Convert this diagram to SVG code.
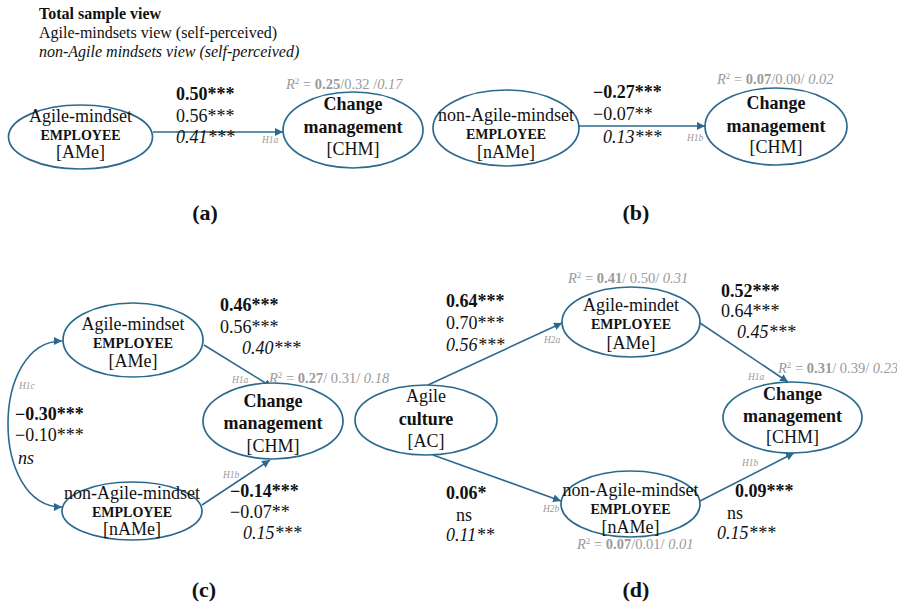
<svg xmlns="http://www.w3.org/2000/svg" width="897" height="605" viewBox="0 0 897 605" font-family="'Liberation Serif', 'DejaVu Serif', serif">
<style>
text{font-family:'Liberation Serif','DejaVu Serif','Times New Roman',serif;fill:#111}
.node ellipse{fill:#fff;stroke:#2b6a8e;stroke-width:1.7}
.n{font-size:18px;text-anchor:middle}
.nb{font-size:18px;text-anchor:middle;font-weight:bold}
.emp{font-size:14px;font-weight:bold;text-anchor:middle}
.c{font-size:18px}
.b{font-weight:bold}
.i{font-style:italic}
.r2{font-size:14.5px;fill:#9a9a9a}
.r2 tspan{fill:#9a9a9a}
.h{font-size:9.5px;font-style:italic;fill:#9a9a9a}
.lbl{font-size:22px;font-weight:bold;text-anchor:middle}
.hd{font-size:16px}
.conn path{fill:none;stroke:#2b6a8e;stroke-width:1.6}
</style>
<defs>
<marker id="arr" viewBox="0 0 10 10" refX="10" refY="5" markerWidth="8" markerHeight="8" markerUnits="userSpaceOnUse" orient="auto-start-reverse">
<path d="M0,0 L10,5 L0,10 z" fill="#2b6a8e"/>
</marker>
</defs>

<g id="header">
<text class="hd b" x="39" y="19">Total sample view</text>
<text class="hd" x="39" y="38">Agile-mindsets view (self-perceived)</text>
<text class="hd i" x="39" y="57">non-Agile mindsets view (self-perceived)</text>
</g>

<g class="conn" id="connectors">
<path d="M153,132 L283,132" marker-end="url(#arr)"/>
<path d="M579,126 L705,126" marker-end="url(#arr)"/>
<path d="M204,345 L272,387" marker-end="url(#arr)"/>
<path d="M202,505 L270,460" marker-end="url(#arr)"/>
<path d="M62,341 C-10,341 -10,507 62,507" marker-start="url(#arr)" marker-end="url(#arr)"/>
<path d="M428,385 L562,323" marker-end="url(#arr)"/>
<path d="M433,455 L561,501" marker-end="url(#arr)"/>
<path d="M700,323 L788,382" marker-end="url(#arr)"/>
<path d="M700,501 L794,453" marker-end="url(#arr)"/>
</g>

<!-- Panel (a) -->
<g class="node" id="a-AMe">
<ellipse cx="80.5" cy="137" rx="72" ry="32"/>
<text class="n" x="80.5" y="122">Agile-mindset</text>
<text class="emp" x="80.5" y="140">EMPLOYEE</text>
<text class="n" x="80.5" y="158">[AMe]</text>
</g>
<g class="node" id="a-CHM">
<ellipse cx="353" cy="130" rx="70" ry="38"/>
<text class="nb" x="353" y="110">Change</text>
<text class="nb" x="353" y="133">management</text>
<text class="n" x="353" y="155">[CHM]</text>
</g>
<g id="a-labels">
<text class="c b" x="176" y="100">0.50***</text>
<text class="c" x="176" y="122">0.56***</text>
<text class="c i" x="176" y="143">0.41***</text>
<text class="h" x="262" y="143">H1a</text>
<text class="r2" x="286" y="89"><tspan class="i">R</tspan><tspan font-size="9" dy="-5">2</tspan><tspan dy="5"> = </tspan><tspan class="b">0.25</tspan>/0.32 /<tspan class="i">0.17</tspan></text>
<text class="lbl" x="205" y="220">(a)</text>
</g>

<!-- Panel (b) -->
<g class="node" id="b-nAMe">
<ellipse cx="506" cy="128" rx="73" ry="38"/>
<text class="n" x="506" y="121">non-Agile-mindset</text>
<text class="emp" x="506" y="139">EMPLOYEE</text>
<text class="n" x="506" y="158">[nAMe]</text>
</g>
<g class="node" id="b-CHM">
<ellipse cx="776" cy="126.5" rx="71" ry="38.5"/>
<text class="nb" x="776" y="109">Change</text>
<text class="nb" x="776" y="132">management</text>
<text class="n" x="776" y="153">[CHM]</text>
</g>
<g id="b-labels">
<text class="c b" x="593" y="98">−0.27***</text>
<text class="c" x="593" y="120">−0.07**</text>
<text class="c i" x="603" y="143">0.13***</text>
<text class="h" x="687" y="141">H1b</text>
<text class="r2" x="717" y="84"><tspan class="i">R</tspan><tspan font-size="9" dy="-5">2</tspan><tspan dy="5"> = </tspan><tspan class="b">0.07</tspan>/0.00/ <tspan class="i">0.02</tspan></text>
<text class="lbl" x="636" y="220">(b)</text>
</g>

<!-- Panel (c) -->
<g class="node" id="c-AMe">
<ellipse cx="133" cy="340" rx="70" ry="37"/>
<text class="n" x="133" y="330">Agile-mindset</text>
<text class="emp" x="133" y="348">EMPLOYEE</text>
<text class="n" x="133" y="367">[AMe]</text>
</g>
<g class="node" id="c-nAMe">
<ellipse cx="132" cy="511" rx="70" ry="29"/>
<text class="n" x="132" y="499">non-Agile-mindset</text>
<text class="emp" x="132" y="517">EMPLOYEE</text>
<text class="n" x="132" y="535">[nAMe]</text>
</g>
<g class="node" id="c-CHM">
<ellipse cx="273" cy="421" rx="70" ry="38"/>
<text class="nb" x="273" y="407">Change</text>
<text class="nb" x="273" y="429">management</text>
<text class="n" x="273" y="452">[CHM]</text>
</g>
<g id="c-labels">
<text class="c b" x="220" y="311">0.46***</text>
<text class="c" x="220" y="333">0.56***</text>
<text class="c i" x="242" y="354">0.40***</text>
<text class="c b" x="230" y="497">−0.14***</text>
<text class="c" x="230" y="518">−0.07**</text>
<text class="c i" x="243" y="539">0.15***</text>
<text class="c b" x="15" y="420">−0.30***</text>
<text class="c" x="15" y="441">−0.10***</text>
<text class="c i" x="18" y="464">ns</text>
<text class="h" x="232" y="383">H1a</text>
<text class="h" x="223" y="478">H1b</text>
<text class="h" x="19" y="389">H1c</text>
<text class="r2" x="269" y="383"><tspan class="i">R</tspan><tspan font-size="9" dy="-5">2</tspan><tspan dy="5"> = </tspan><tspan class="b">0.27</tspan>/ 0.31/ <tspan class="i">0.18</tspan></text>
<text class="lbl" x="204" y="597">(c)</text>
</g>

<!-- Panel (d) -->
<g class="node" id="d-AC">
<ellipse cx="426" cy="420" rx="71" ry="35"/>
<text class="n" x="426" y="402">Agile</text>
<text class="nb" x="426" y="425">culture</text>
<text class="n" x="426" y="447">[AC]</text>
</g>
<g class="node" id="d-AMe">
<ellipse cx="631" cy="322" rx="69" ry="35"/>
<text class="n" x="631" y="311">Agile-mindet</text>
<text class="emp" x="631" y="329">EMPLOYEE</text>
<text class="n" x="631" y="349">[AMe]</text>
</g>
<g class="node" id="d-nAMe">
<ellipse cx="630.5" cy="504" rx="69.5" ry="33"/>
<text class="n" x="630.5" y="496">non-Agile-mindset</text>
<text class="emp" x="630.5" y="514">EMPLOYEE</text>
<text class="n" x="630.5" y="533">[nAMe]</text>
</g>
<g class="node" id="d-CHM">
<ellipse cx="792.5" cy="417.5" rx="69.5" ry="35.5"/>
<text class="nb" x="792.5" y="400">Change</text>
<text class="nb" x="792.5" y="422">management</text>
<text class="n" x="792.5" y="443">[CHM]</text>
</g>
<g id="d-labels">
<text class="c b" x="446" y="307">0.64***</text>
<text class="c" x="446" y="329">0.70***</text>
<text class="c i" x="446" y="351">0.56***</text>
<text class="c b" x="721" y="297">0.52***</text>
<text class="c" x="721" y="317">0.64***</text>
<text class="c i" x="737" y="338">0.45***</text>
<text class="c b" x="446" y="499">0.06*</text>
<text class="c" x="456" y="521">ns</text>
<text class="c i" x="446" y="541">0.11**</text>
<text class="c b" x="735" y="497">0.09***</text>
<text class="c" x="727" y="519">ns</text>
<text class="c i" x="717" y="539">0.15***</text>
<text class="h" x="544" y="343">H2a</text>
<text class="h" x="543" y="512">H2b</text>
<text class="h" x="748" y="380">H1a</text>
<text class="h" x="742" y="466">H1b</text>
<text class="r2" x="568" y="283"><tspan class="i">R</tspan><tspan font-size="9" dy="-5">2</tspan><tspan dy="5"> = </tspan><tspan class="b">0.41</tspan>/ 0.50/ <tspan class="i">0.31</tspan></text>
<text class="r2" x="778" y="373"><tspan class="i">R</tspan><tspan font-size="9" dy="-5">2</tspan><tspan dy="5"> = </tspan><tspan class="b">0.31</tspan>/ 0.39/ <tspan class="i">0.23</tspan></text>
<text class="r2" x="577" y="549"><tspan class="i">R</tspan><tspan font-size="9" dy="-5">2</tspan><tspan dy="5"> = </tspan><tspan class="b">0.07</tspan>/0.01/ <tspan class="i">0.01</tspan></text>
<text class="lbl" x="636" y="597">(d)</text>
</g>
</svg>
